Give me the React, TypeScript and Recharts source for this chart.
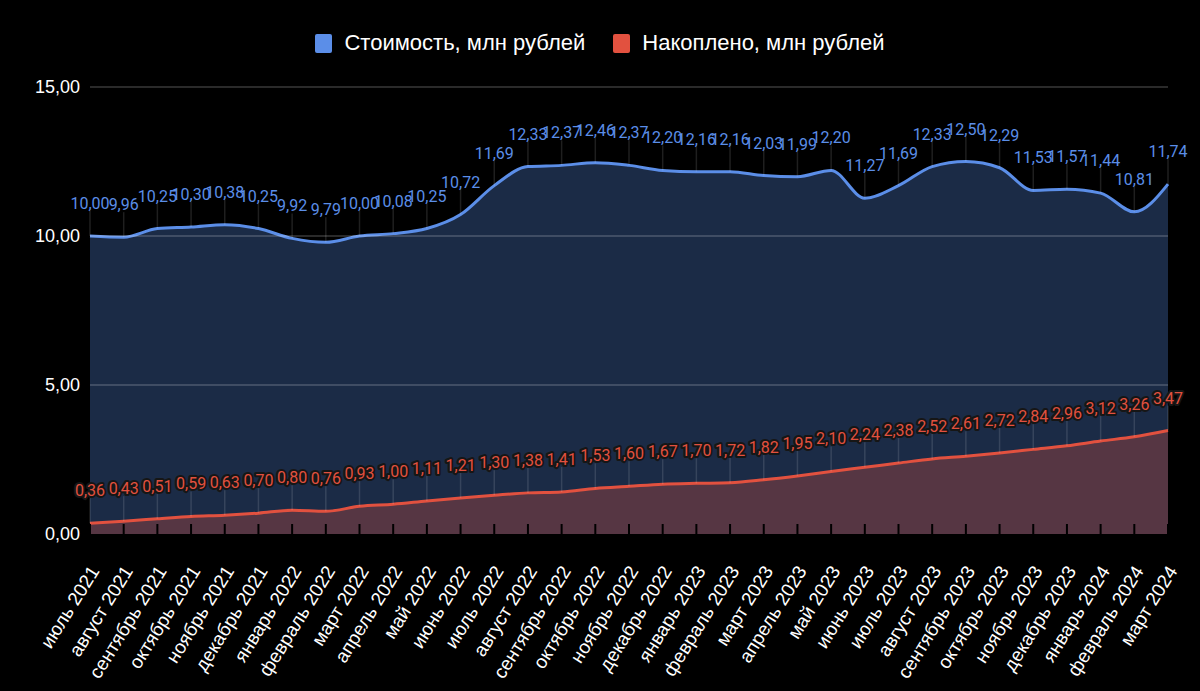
import {
  Area,
  AreaChart,
  LabelList,
  Legend,
  ReferenceLine,
  XAxis,
  YAxis,
} from "recharts"

const months = [
  "июль 2021", "август 2021", "сентябрь 2021", "октябрь 2021", "ноябрь 2021",
  "декабрь 2021", "январь 2022", "февраль 2022", "март 2022", "апрель 2022",
  "май 2022", "июнь 2022", "июль 2022", "август 2022", "сентябрь 2022",
  "октябрь 2022", "ноябрь 2022", "декабрь 2022", "январь 2023", "февраль 2023",
  "март 2023", "апрель 2023", "май 2023", "июнь 2023", "июль 2023",
  "август 2023", "сентябрь 2023", "октябрь 2023", "ноябрь 2023", "декабрь 2023",
  "январь 2024", "февраль 2024", "март 2024",
]

const cost = [
  10.0, 9.96, 10.25, 10.3, 10.38, 10.25, 9.92, 9.79, 10.0, 10.08, 10.25,
  10.72, 11.69, 12.33, 12.37, 12.46, 12.37, 12.2, 12.16, 12.16, 12.03, 11.99,
  12.2, 11.27, 11.69, 12.33, 12.5, 12.29, 11.53, 11.57, 11.44, 10.81, 11.74,
]

const saved = [
  0.36, 0.43, 0.51, 0.59, 0.63, 0.7, 0.8, 0.76, 0.93, 1.0, 1.11, 1.21, 1.3,
  1.38, 1.41, 1.53, 1.6, 1.67, 1.7, 1.72, 1.82, 1.95, 2.1, 2.24, 2.38, 2.52,
  2.61, 2.72, 2.84, 2.96, 3.12, 3.26, 3.47,
]

const yTicks = [0, 5, 10, 15]

const seriesNames = ["Стоимость, млн рублей", "Накоплено, млн рублей"]

const BLUE = "#5b8ee8"
const RED = "#e2513f"
const TICK_MARGIN = 8
const ARIAL = "Arial, 'Liberation Sans', sans-serif"

const data = months.map((month, i) => ({
  month,
  cost: cost[i],
  saved: saved[i],
}))

const fmt = (v: number) => v.toFixed(2).replace(".", ",")

// value label with a thin stem from the point up to the text
const PointLabel = (props: any) => {
  const { x, y, value, color, outline } = props
  if (x == null || y == null) return null
  return (
    <g>
      <line
        x1={x}
        y1={y}
        x2={x}
        y2={y - 25}
        stroke="rgba(255,255,255,0.12)"
        strokeWidth={1.5}
      />
      <text
        x={x}
        y={y - 27}
        textAnchor="middle"
        fill={color}
        fontSize={16}
        fontFamily="Roboto, sans-serif"
        stroke={outline ? "#161616" : "none"}
        strokeWidth={outline ? 4 : 0}
        strokeLinejoin="round"
        paintOrder="stroke"
      >
        {fmt(Number(value))}
      </text>
    </g>
  )
}

const MonthTick = ({ x, y, payload }: any) => {
  const axisY = y - TICK_MARGIN
  const tx = x + 10
  const ty = axisY + 37
  return (
    <g>
      <line x1={x} y1={axisY - 10} x2={x} y2={axisY} stroke="#000" strokeWidth={2} />
      <text
        x={tx}
        y={ty}
        transform={`rotate(-58 ${tx} ${ty})`}
        textAnchor="end"
        fill="#fff"
        fontSize={19}
        fontFamily={ARIAL}
      >
        {payload.value}
      </text>
    </g>
  )
}

const renderLegend = () => (
  <div
    style={{
      display: "flex",
      justifyContent: "center",
      gap: 28,
      height: 24,
      color: "#fff",
      fontFamily: ARIAL,
      fontSize: 22,
      lineHeight: "24px",
    }}
  >
    {seriesNames.map((name, i) => (
      <span key={name} style={{ display: "flex", alignItems: "center" }}>
        <span
          style={{
            display: "inline-block",
            width: 17,
            height: 19,
            borderRadius: 2,
            background: i === 0 ? BLUE : RED,
            marginRight: 12,
          }}
        />
        {name}
      </span>
    ))}
  </div>
)

export default function App() {
  return (
    <div
      style={{
        position: "fixed",
        left: 0,
        top: 0,
        width: 1200,
        height: 691,
        background: "#000",
      }}
    >
      <AreaChart
        width={1200}
        height={691}
        data={data}
        margin={{ top: 63, right: 32, bottom: 7, left: 0 }}
      >
        <Legend
          verticalAlign="top"
          content={renderLegend}
          wrapperStyle={{ top: 31, left: 0, width: 1200 }}
        />
        <XAxis
          dataKey="month"
          interval={0}
          height={150}
          axisLine={false}
          tickLine={false}
          tickSize={0}
          tickMargin={TICK_MARGIN}
          tick={<MonthTick />}
        />
        <YAxis
          domain={[0, 15]}
          ticks={yTicks}
          width={90}
          axisLine={false}
          tickLine={false}
          tickSize={0}
          tickMargin={10}
          tickFormatter={fmt}
          tick={{ fill: "#fff", fontSize: 18, fontFamily: ARIAL }}
        />
        <Area
          type="monotone"
          dataKey="cost"
          name={seriesNames[0]}
          stroke={BLUE}
          strokeWidth={3}
          fill={BLUE}
          fillOpacity={0.3}
          dot={false}
          activeDot={false}
          isAnimationActive={false}
        >
          <LabelList dataKey="cost" content={<PointLabel color={BLUE} />} />
        </Area>
        <Area
          type="monotone"
          dataKey="saved"
          name={seriesNames[1]}
          stroke={RED}
          strokeWidth={3}
          fill={RED}
          fillOpacity={0.3}
          dot={false}
          activeDot={false}
          isAnimationActive={false}
        >
          <LabelList dataKey="saved" content={<PointLabel color={RED} outline />} />
        </Area>
        {yTicks.slice(1).map((t) => (
          <ReferenceLine key={t} y={t} stroke="rgba(255,255,255,0.22)" strokeWidth={1.5} />
        ))}
      </AreaChart>
    </div>
  )
}
